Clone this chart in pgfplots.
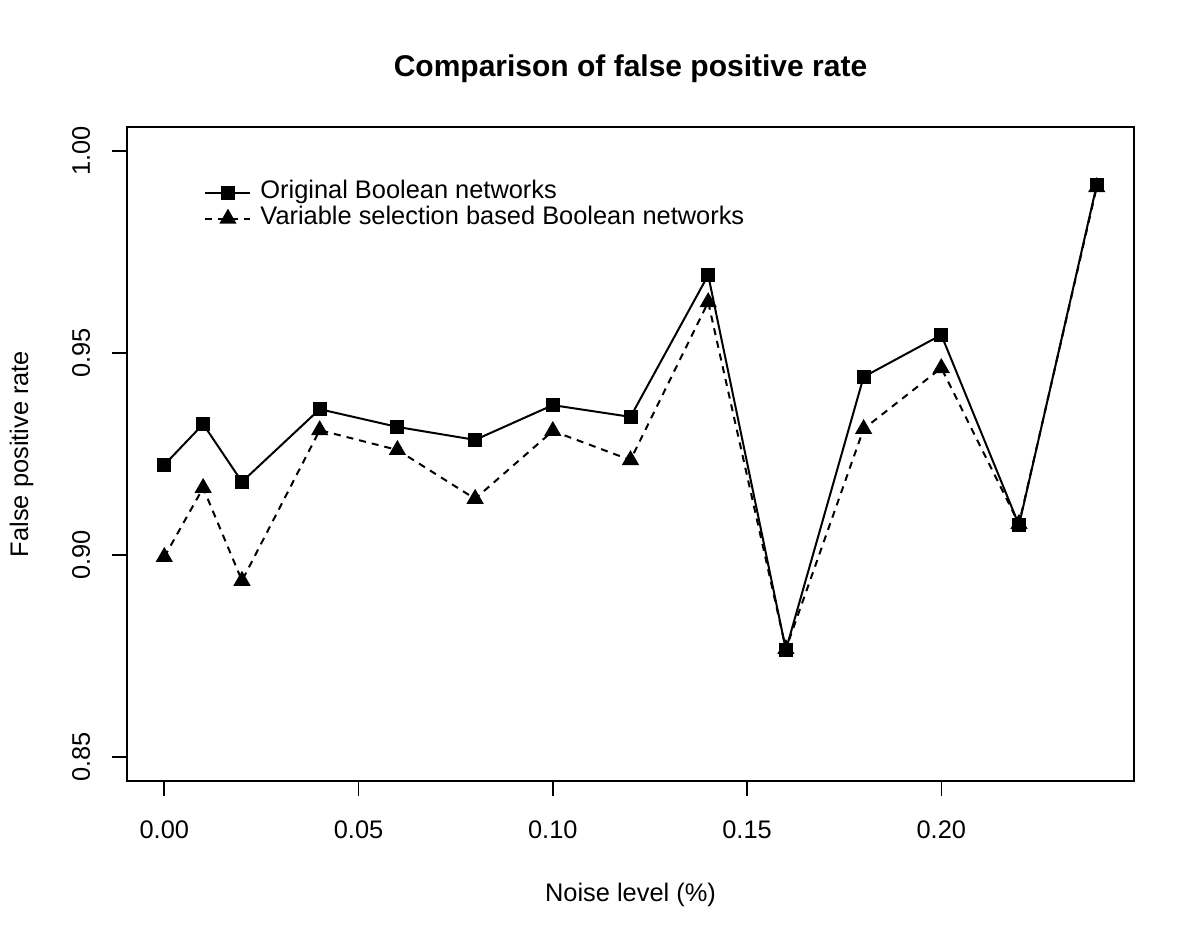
\documentclass[border=0pt]{standalone}
\usepackage{pgfplots}
\pgfplotsset{compat=1.18}
\usepackage{fontspec}
\setmainfont{Liberation Sans}
\pgfplotstableread{
x y
0.00 0.9223
0.01 0.9324
0.02 0.9181
0.04 0.9361
0.06 0.9317
0.08 0.9285
0.10 0.9371
0.12 0.9342
0.14 0.9693
0.16 0.8765
0.18 0.9441
0.20 0.9545
0.22 0.9074
0.24 0.9916
}\orig
\pgfplotstableread{
x y
0.00 0.8995
0.01 0.9166
0.02 0.8936
0.04 0.9309
0.06 0.9260
0.08 0.9139
0.10 0.9307
0.12 0.9235
0.14 0.9626
0.16 0.8767
0.18 0.9312
0.20 0.9463
0.22 0.9077
0.24 0.9911
}\varsel
\begin{document}
\fontsize{12.7}{15}\selectfont
\begin{tikzpicture}
\useasboundingbox (-63.5pt,-79.5pt) rectangle (536.5pt,390.5pt);
\begin{axis}[
  at={(0,0)}, anchor=south west,
  scale only axis, width=503.5pt, height=327pt,
  xmin=-0.0096, xmax=0.2496,
  ymin=0.844, ymax=1.006,
  axis line style={line width=0.8pt},
  xtick={0,0.05,0.10,0.15,0.20},
  ytick={0.85,0.90,0.95,1.00},
  xtick pos=bottom, ytick pos=left,
  tick align=outside,
  major tick length=7.5pt,
  every tick/.style={black, line width=0.8pt},
  /pgf/number format/.cd, fixed, fixed zerofill, precision=2, assume math mode=true,
  /pgfplots/.cd,
  ticklabel style={font=\fontsize{12.7}{15}\selectfont},
  xticklabel style={anchor=base, inner sep=0pt, yshift=-21.5pt},
  yticklabel style={xshift=-11pt, anchor=base, inner sep=0pt, rotate=90},
  title={Comparison of false positive rate},
  title style={at={(0.5,1)}, anchor=base, yshift=19pt, font=\bfseries\fontsize{15}{18}\selectfont},
  xlabel={Noise level (\%)},
  xlabel style={at={(0.5,0)}, anchor=base, yshift=-60.5pt, font=\fontsize{12.7}{15}\selectfont},
  ylabel={False positive rate},
  ylabel style={at={(-0.0983,0.5)}, anchor=base, rotate=0, font=\fontsize{12.7}{15}\selectfont},
  legend cell align=left,
  legend image code/.code={\draw[mark repeat=2,mark phase=2,#1] plot coordinates {(0pt,0pt)(11.25pt,0pt)(22.5pt,0pt)};},
  legend style={draw=none, fill=none, at={(rel axis cs:0.0765,0.92)}, anchor=north west, inner sep=0pt, row sep=0pt,
    nodes={inner sep=0pt, text height=9.5pt, text depth=3.5pt, font=\fontsize{12.7}{15}\selectfont},
    /tikz/every odd column/.append style={column sep=4.5pt}},
]
\addplot[black, line width=1pt, mark=square*, mark size=3pt, mark options={solid}] table {\orig};
\addlegendentry{Original Boolean networks}
\addplot[black, line width=1pt, dash pattern=on 3.5pt off 3pt, mark=triangle*, mark size=4pt, mark options={solid}] table {\varsel};
\addlegendentry{Variable selection based Boolean networks}
\end{axis}
\end{tikzpicture}
\end{document}
